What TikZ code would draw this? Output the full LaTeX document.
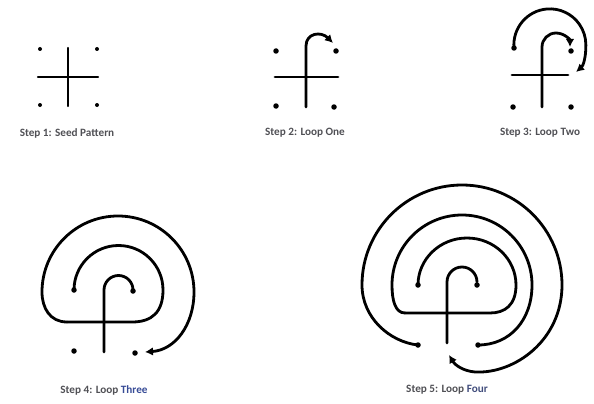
\documentclass[tikz,border=0pt]{standalone}
\usepackage{fontspec}
\setmainfont{Carlito}
\usetikzlibrary{arrows.meta}
\definecolor{capgray}{RGB}{80,80,85}
\definecolor{capblue}{RGB}{55,75,150}

\begin{document}
\begin{tikzpicture}[x=1pt, y=-1pt,
    wire/.style={line width=2.8pt, line cap=round},
    loop/.style={wire, -{Latex[length=8pt, width=8.5pt]}},
    seed/.style={circle, fill=black, inner sep=0pt, minimum size=5.5pt},
    caption/.style={font=\bfseries\fontsize{11.2}{13}\selectfont, text=capgray}]
    \useasboundingbox (0,0) rectangle (594,404);
    % Step 1: seed pattern
    \coordinate (a1w) at (38,77); \coordinate (a1e) at (98,77);
    \coordinate (a1n) at (68,48); \coordinate (a1s) at (68,106);
    \draw[wire, line width=2.3pt] (a1w) -- (a1e) (a1n) -- (a1s);
    \node[seed, minimum size=4pt] (a1tl) at (40,49) {};
    \node[seed, minimum size=4pt] (a1tr) at (97,49) {};
    \node[seed, minimum size=4pt] (a1bl) at (40,105) {};
    \node[seed, minimum size=4pt] (a1br) at (97,105) {};
    \node[caption] (t1) at (67,133) {Step 1: Seed Pattern};
    % Step 2: loop one
    \coordinate (b2w) at (275,77); \coordinate (b2e) at (338,77);
    \coordinate (b2s) at (306,107); \coordinate (b2top) at (306,46);
    \coordinate (b2tip) at (333,43);
    \node[seed] (b2tl) at (276,51) {};
    \node[seed] (b2tr) at (336,51) {};
    \node[seed] (b2bl) at (276,106) {};
    \node[seed] (b2br) at (334,107) {};
    \draw[wire] (b2w) -- (b2e);
    \draw[loop] (b2s) -- (b2top) .. controls (306,33) and (321,31) .. (b2tip);
    \node[caption] (t2) at (305,133) {Step 2: Loop One};
    % Step 3: loop two
    \coordinate (c3w) at (512,75); \coordinate (c3e) at (568,75);
    \coordinate (c3s) at (542,107); \coordinate (c3top) at (542,47);
    \coordinate (c3tip) at (576,72);
    \node[seed] (c3tl) at (514,48) {};
    \node[seed] (c3tr) at (571,51) {};
    \node[seed] (c3bl) at (513,107) {};
    \node[seed] (c3br) at (571,107) {};
    \draw[wire] (c3w) -- (c3e);
    \draw[loop] (c3s) -- (c3top) arc[start angle=180, end angle=360, radius=14];
    \draw[loop] (c3tl.center) arc[start angle=175, end angle=360, radius=36]
        .. controls (586,58) and (583,66) .. (c3tip);
    \node[caption] (t3) at (540,133) {Step 3: Loop Two};
    % Step 4: loop three
    \coordinate (d4s) at (104,352); \coordinate (d4top) at (104,290);
    \coordinate (d4bare) at (132,322); \coordinate (d4barw) at (67,322);
    \coordinate (d4tip) at (145,352);
    \node[seed] (d4tl) at (74,290) {};
    \node[seed] (d4tr) at (133,291) {};
    \node[seed] (d4bl) at (74,351) {};
    \node[seed] (d4br) at (135,353) {};
    \draw[wire] (d4s) -- (d4top) arc[start angle=180, end angle=360, radius=14.5];
    \draw[wire] (d4tl.center) arc[start angle=180, end angle=360, radius=44.5]
        .. controls (163,312) and (152,322) .. (d4bare) -- (d4barw);
    \draw[loop] (d4barw) .. controls (50,322) and (42,308) .. (42,292)
        arc[start angle=180, end angle=360, radius=76]
        .. controls (194,325) and (175,350) .. (d4tip);
    \node[caption] (t4) at (104,390) {Step 4: Loop \textcolor{capblue}{Three}};
    % Step 5: loop four
    \coordinate (e5s) at (447,343); \coordinate (e5top) at (447,282);
    \coordinate (e5bare) at (490,313); \coordinate (e5barw) at (405,313);
    \coordinate (e5tip) at (449,355);
    \node[seed] (e5tl) at (418,285) {};
    \node[seed] (e5tr) at (477,285) {};
    \node[seed] (e5bl) at (418,345) {};
    \node[seed] (e5br) at (478,345) {};
    \draw[wire] (e5s) -- (e5top) arc[start angle=180, end angle=360, radius=15];
    \draw[wire] (e5tl.center) arc[start angle=180, end angle=360, x radius=49, y radius=47]
        .. controls (516,305) and (505,313) .. (e5bare) -- (e5barw);
    \draw[wire] (e5barw) .. controls (395,313) and (392,300) .. (392,285)
        arc[start angle=180, end angle=360, radius=70]
        .. controls (532,320) and (510,345) .. (e5br.center);
    \draw[loop] (e5bl.center) .. controls (390,342) and (362,318) .. (362,285)
        arc[start angle=180, end angle=360, radius=100]
        .. controls (562,340) and (515,374) .. (475,372)
        .. controls (463,371) and (455,365) .. (e5tip);
    \node[caption] (t5) at (447,390) {Step 5: Loop \textcolor{capblue!60!capgray}{Four}};
\end{tikzpicture}
\end{document}
